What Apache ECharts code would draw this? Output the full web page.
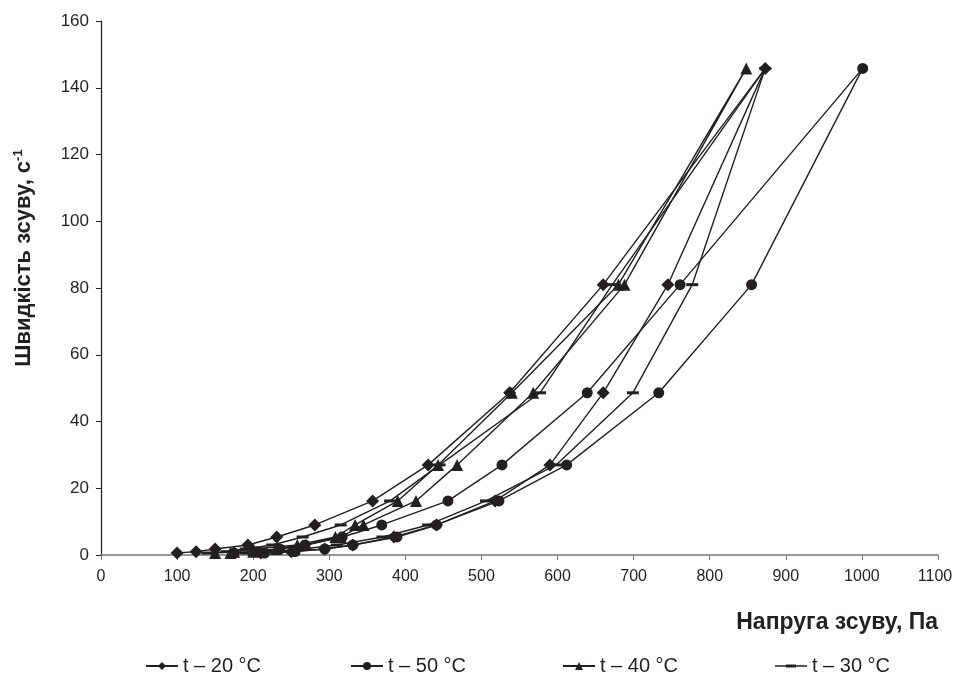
<!DOCTYPE html>
<html>
<head>
<meta charset="utf-8">
<script src="https://cdn.jsdelivr.net/npm/echarts@6/dist/echarts.min.js"></script>
<style>
html,body{margin:0;padding:0;background:#fff;}
#chart{width:954px;height:684px;}
</style>
</head>
<body>
<div id="chart"></div>
<script>
// Shear rate levels (s^-1), ascending
const shearLevels = [0.6, 1, 1.8, 3, 5.4, 9, 16.2, 27, 48.6, 81, 145.8];

// Shear stress (Pa) on the ascending branch, one per level
const stressUp20 = [100, 125, 150, 193, 231, 281, 357, 430, 537, 660, 873];
// Shear stress (Pa) on the descending branch, levels 81 ... 0.6
const stressDown20 = [745, 660, 590, 518, 441, 385, 331, 294, 250, 210];

const stressUp50 = [175, 205, 235, 268, 317, 369, 456, 527, 639, 761, 1001];
const stressDown50 = [855, 733, 612, 523, 441, 389, 331, 294, 255, 215];

const stressUp40 = [150, 175, 200, 258, 308, 334, 390, 443, 540, 680, 848];
const stressDown40 = [688, 568, 468, 414, 345, 315, 270, 230, 200, 170];

const stressUp30 = [140, 165, 190, 225, 265, 315, 380, 445, 577, 672, 873];
const stressDown30 = [777, 699, 598, 506, 430, 370, 310, 265, 225, 190];

const seriesNames = ['t – 20 °C', 't – 50 °C', 't – 40 °C', 't – 30 °C'];
const xTicks = {min: 0, max: 1100, interval: 100};
const yTicks = {min: 0, max: 160, interval: 20};

function loop(up, down) {
  const pts = [];
  for (let i = 0; i < shearLevels.length; i++) pts.push([up[i], shearLevels[i]]);
  const descLevels = shearLevels.slice(0, shearLevels.length - 1).reverse();
  for (let i = 0; i < down.length; i++) pts.push([down[i], descLevels[i]]);
  return pts;
}

const ink = '#231f20';
const font = 'Liberation Sans, Arial, sans-serif';

function mk(name, data, symbol, size) {
  return {
    name: name, type: 'line', data: data,
    symbol: symbol, symbolSize: size,
    showAllSymbol: true,
    lineStyle: {color: ink, width: 1.4},
    itemStyle: {color: ink},
    emphasis: {disabled: true},
    animation: false
  };
}

const dashIcon = 'path://M0,0L0.01,0L0.01,0.01Z M0,4.2L32,4.2L32,5.8L0,5.8Z M11,3.5L21,3.5L21,6.5L11,6.5Z M31.99,9.99L32,9.99L32,10Z';
const legendLefts = [140, 345, 557, 770];
const legendIcons = [undefined, undefined, undefined, dashIcon];

function legendFor(i) {
  const item = {name: seriesNames[i]};
  if (legendIcons[i]) item.icon = legendIcons[i];
  return {
    bottom: 3, left: legendLefts[i], itemWidth: 32, itemHeight: 10,
    textStyle: {fontFamily: font, fontSize: 20, color: ink},
    data: [item]
  };
}

const chart = echarts.init(document.getElementById('chart'), null, {renderer: 'canvas'});
chart.setOption({
  backgroundColor: '#fff',
  animation: false,
  grid: {left: 101, right: 16, top: 21, bottom: 129, containLabel: false, outerBoundsMode: 'none'},
  xAxis: {
    type: 'value', min: xTicks.min, max: xTicks.max, interval: xTicks.interval,
    name: 'Напруга зсуву, Па', nameLocation: 'end', nameGap: 0,
    nameTextStyle: {fontFamily: font, fontWeight: 'bold', fontSize: 23, color: ink,
      align: 'right', verticalAlign: 'top', padding: [56, 0, 0, 0]},
    axisLine: {lineStyle: {color: '#777', width: 1.5}},
    axisTick: {show: true, length: 5, lineStyle: {color: '#777'}},
    axisLabel: {fontFamily: font, fontSize: 16, color: ink, margin: 14,
      formatter: v => (v === xTicks.max ? '{last|' + v + '}' : String(v)),
      rich: {last: {fontFamily: font, fontSize: 16, color: ink, padding: [0, 6, 0, 0]}}},
    splitLine: {show: false}
  },
  yAxis: {
    type: 'value', min: yTicks.min, max: yTicks.max, interval: yTicks.interval,
    name: 'Швидкість зсуву, с{sup|-1}', nameLocation: 'middle', nameGap: 66, nameRotate: 90,
    nameTextStyle: {fontFamily: font, fontWeight: 'bold', fontSize: 22, color: ink,
      padding: [0, 0, 0, 60],
      rich: {sup: {fontFamily: font, fontWeight: 'bold', fontSize: 13, color: ink, verticalAlign: 'top', padding: [0, 0, 10, 0]}}},
    axisLine: {show: true, lineStyle: {color: ink, width: 1.2}},
    axisTick: {show: true, length: 5, lineStyle: {color: ink}},
    axisLabel: {fontFamily: font, fontSize: 17, color: ink, margin: 12, formatter: v => String(v)},
    splitLine: {show: false}
  },
  legend: [legendFor(0), legendFor(1), legendFor(2), legendFor(3)],
  series: [
    mk(seriesNames[0], loop(stressUp20, stressDown20), 'diamond', 13),
    mk(seriesNames[1], loop(stressUp50, stressDown50), 'circle', 11),
    mk(seriesNames[2], loop(stressUp40, stressDown40), 'triangle', 12),
    mk(seriesNames[3], loop(stressUp30, stressDown30), 'rect', [12, 3])
  ]
});
</script>
</body>
</html>
